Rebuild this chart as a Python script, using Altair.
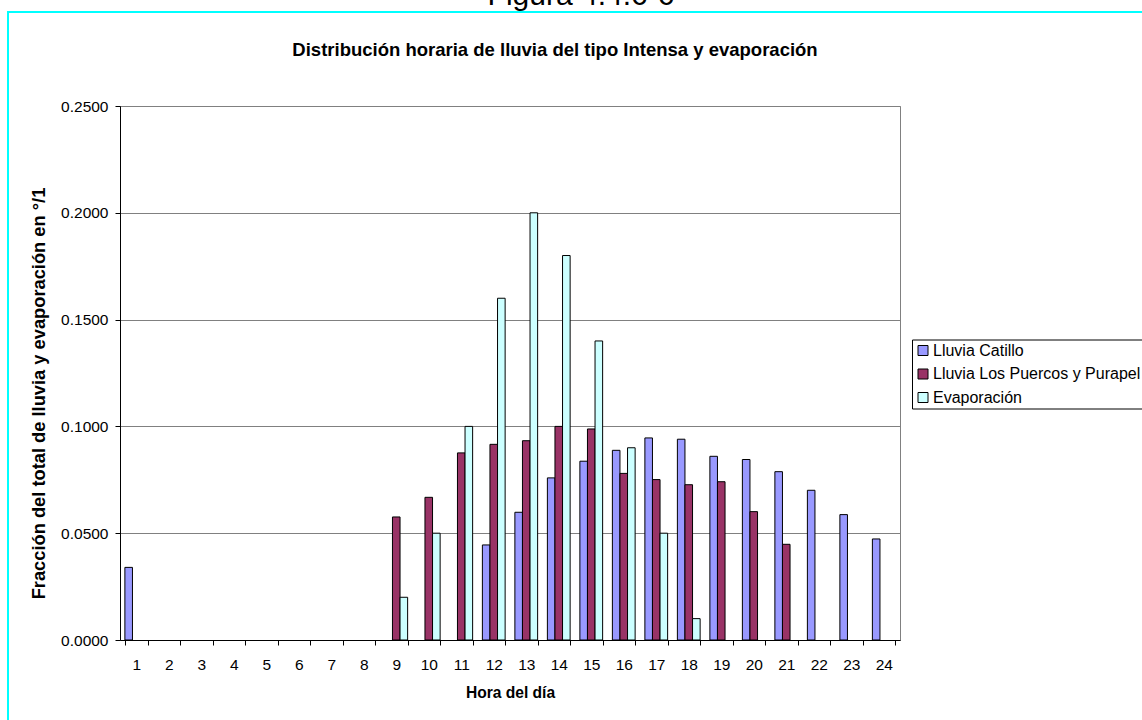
import altair as alt
import pandas as pd

# Hours of the day and the three hourly distributions (fraction of daily total)
horas = list(range(1, 25))
series = ["Lluvia Catillo", "Lluvia Los Puercos y Purapel", "Evaporación"]
catillo = [0.0340, 0, 0, 0, 0, 0, 0, 0, 0, 0, 0,
           0.0445, 0.0598, 0.0759, 0.0837, 0.0888, 0.0946, 0.0940,
           0.0860, 0.0845, 0.0788, 0.0701, 0.0587, 0.0473]
puercos = [0, 0, 0, 0, 0, 0, 0, 0,
           0.0576, 0.0668, 0.0876, 0.0916, 0.0933, 0.1000, 0.0988,
           0.0780, 0.0751, 0.0727, 0.0741, 0.0601, 0.0448, 0, 0, 0]
evaporacion = [0, 0, 0, 0, 0, 0, 0, 0,
               0.02, 0.05, 0.10, 0.16, 0.20, 0.18, 0.14, 0.09, 0.05, 0.01,
               0, 0, 0, 0, 0, 0]
colores = ["#9999FF", "#993366", "#CCFFFF"]
y_ticks = [0.0, 0.05, 0.10, 0.15, 0.20, 0.25]

titulo = "Distribución horaria de lluvia del tipo Intensa y evaporación"
figura = "Figura 4.4.6-6"

rows = []
for nombre, valores in zip(series, [catillo, puercos, evaporacion]):
    for h, v in zip(horas, valores):
        if v > 0:
            rows.append({"hora": h, "serie": nombre, "valor": v})
df = pd.DataFrame(rows)

FONT = "Liberation Sans"
W, H = 780, 534
PAD_L, PAD_T, PAD_R, PAD_B = 120, 106, 242, 80

bars = alt.Chart(df).mark_bar(stroke="black", strokeWidth=1).encode(
    x=alt.X(
        "hora:O",
        scale=alt.Scale(domain=horas, paddingInner=0.3, paddingOuter=0.15),
        axis=alt.Axis(
            title="Hora del día", labelAngle=0, tickBand="extent", grid=False,
            tickSize=5, labelPadding=12, labelBaseline="top",
            titleY=52, titleBaseline="middle", titleFontSize=15.6,
        ),
    ),
    xOffset=alt.XOffset(
        "serie:N", sort=series,
        scale=alt.Scale(domain=series, paddingInner=0, paddingOuter=0),
    ),
    y=alt.Y(
        "valor:Q",
        scale=alt.Scale(domain=[0, 0.25], nice=False),
        axis=alt.Axis(
            values=y_ticks, format=".4f", grid=True, tickSize=5, labelPadding=7,
            title="Fracción del total de lluvia y evaporación en °/1",
            titleX=-81, titleY=287, titleAlign="center", titleBaseline="middle",
            titleFontSize=18.3,
        ),
    ),
    color=alt.Color(
        "serie:N",
        scale=alt.Scale(domain=series, range=colores),
        title=None,
        legend=alt.Legend(
            orient="none", legendX=792, legendY=233.5, direction="vertical",
            strokeColor="black", fillColor="white", padding=3,
            symbolType="square", symbolSize=100, symbolStrokeColor="black",
            symbolStrokeWidth=1, labelFont=FONT, labelFontSize=16,
            labelOffset=2, rowPadding=7.5, labelLimit=400, labelColor="black",
        ),
    ),
)

one = pd.DataFrame({"k": [0]})

# Cyan page frame around the chart
frame = alt.Chart(one).mark_rect(
    filled=False, stroke="#00FFFF", strokeWidth=2
).encode(
    x=alt.value(8 - PAD_L), y=alt.value(12 - PAD_T),
    x2=alt.value(1400), y2=alt.value(900),
)

# Figure caption above the frame
caption = alt.Chart(pd.DataFrame({"t": [figura]})).mark_text(
    font=FONT, fontSize=30, align="center", baseline="alphabetic", color="black"
).encode(x=alt.value(581 - PAD_L), y=alt.value(5 - PAD_T), text="t:N")

# Chart title
title = alt.Chart(pd.DataFrame({"t": [titulo]})).mark_text(
    font=FONT, fontSize=18.5, fontWeight="bold", align="center",
    baseline="alphabetic", color="black"
).encode(x=alt.value(555 - PAD_L), y=alt.value(56 - PAD_T), text="t:N")

chart = alt.layer(frame, bars, caption, title).properties(
    width=W, height=H,
    autosize=alt.AutoSizeParams(type="none"),
    padding={"left": PAD_L, "top": PAD_T, "right": PAD_R, "bottom": PAD_B},
    background="white",
).configure_axis(
    labelFont=FONT, labelFontSize=15.5, labelColor="black",
    titleFont=FONT, titleFontWeight="bold", titleColor="black",
    domainColor="black", tickColor="black", gridColor="#808080", gridWidth=1,
).configure_view(
    stroke="#808080", strokeWidth=1
)

chart.save("out.html", embed_options={"renderer": "svg", "actions": False})
